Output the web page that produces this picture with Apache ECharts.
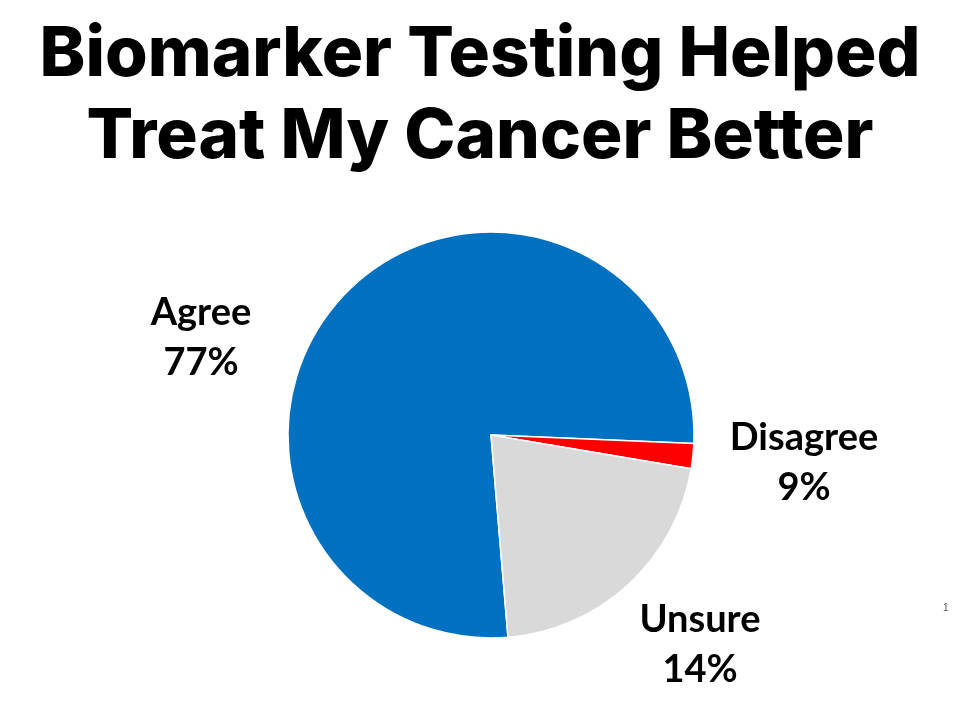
<!DOCTYPE html>
<html>
<head>
<meta charset="utf-8">
<script src="https://cdn.jsdelivr.net/npm/echarts@6/dist/echarts.min.js"></script>
<style>html,body{margin:0;padding:0;background:#fff;}#chart{width:960px;height:720px;}</style>
</head>
<body>
<div id="chart"></div>
<script>
// Data
const titleLines = ['Biomarker Testing Helped', 'Treat My Cancer Better'];
const categories = ['Agree', 'Disagree', 'Unsure'];
// slice sizes as drawn in the reference
const sliceValues = [77, 2, 21];
// percentages printed on the labels
const labelPercents = ['77%', '9%', '14%'];
const footnote = '1';

const colors = ['#0070C0', '#FF0000', '#D9D9D9'];
const labelCenters = [[201, 338], [804, 463], [700, 645]];

const chart = echarts.init(document.getElementById('chart'));
chart.setOption({
  backgroundColor: '#ffffff',
  animation: false,
  title: {
    text: titleLines.join('\n'),
    left: 'center',
    top: 9,
    textStyle: {
      fontFamily: 'Inter',
      fontWeight: 800,
      fontSize: 69,
      lineHeight: 82,
      color: '#000000'
    }
  },
  graphic: [{
    type: 'text',
    left: 943,
    top: 603,
    style: { text: footnote, fontSize: 10, fill: '#555', fontFamily: 'Liberation Sans' }
  }],
  series: [{
    type: 'pie',
    center: [491, 435],
    radius: 203,
    startAngle: -85.2,
    clockwise: true,
    data: categories.map((c, i) => ({
      name: c,
      value: sliceValues[i],
      itemStyle: { color: colors[i] }
    })),
    itemStyle: { borderColor: '#ffffff', borderWidth: 1.5 },
    label: {
      show: true,
      position: 'outside',
      formatter: p => p.name + '\n' + labelPercents[p.dataIndex],
      fontFamily: 'Lato',
      fontWeight: 'bold',
      fontSize: 38,
      lineHeight: 50,
      color: '#000000',
      align: 'center'
    },
    labelLine: { show: false },
    labelLayout: function (params) {
      const c = labelCenters[params.dataIndex];
      return { x: c[0], y: c[1], align: 'center', verticalAlign: 'middle' };
    },
    emphasis: { disabled: true }
  }]
});
</script>
</body>
</html>
